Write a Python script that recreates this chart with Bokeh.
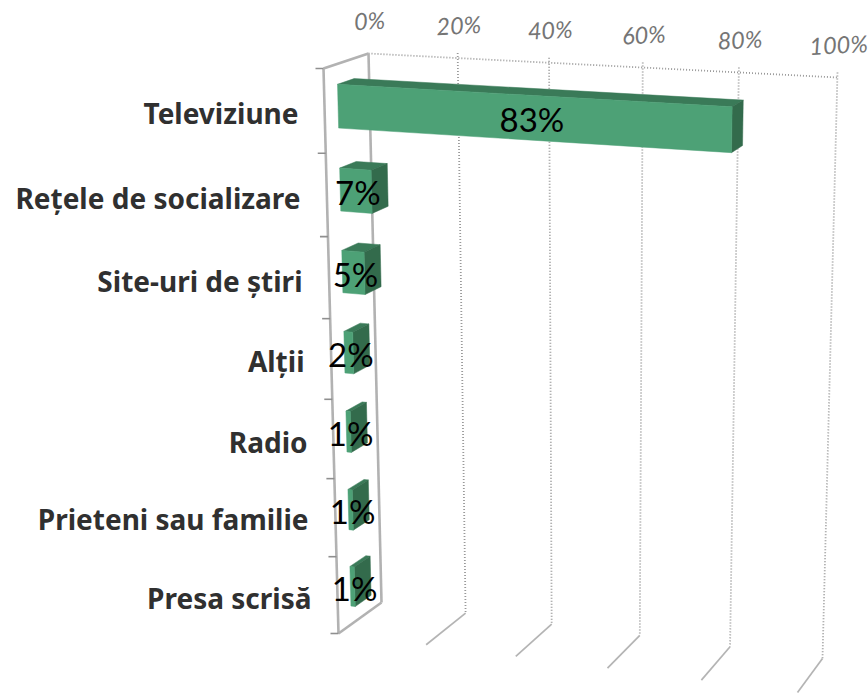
from bokeh.plotting import figure
from bokeh.models import Range1d
from bokeh.core.properties import value
from bokeh.embed import file_html
from bokeh.resources import INLINE
import numpy as np

categories = ["Televiziune", "Rețele de socializare", "Site-uri de știri", "Alții", "Radio",
              "Prieteni sau familie", "Presa scrisă"]
shares = [83, 7, 5, 2, 1, 1, 1]
axis_ticks = [0, 20, 40, 60, 80, 100]
tick_labels = ["0%", "20%", "40%", "60%", "80%", "100%"]

W, H = 868, 693
# camera: the corners of the front and back planes of the 3D box, in page pixels
FRONT = [(323, 68), (810, 95), (797, 692), (338, 633)]
BACK = [(368, 53), (837, 77), (822, 658), (381, 602)]
Z0, Z1 = 0.30, 0.67          # depth of the bars inside the box
BAR_PAD = 0.24               # gap above and below a bar, in category units


def homography(q):
    s = np.array([(0, 0), (1, 0), (1, 1), (0, 1)], float)
    A, b = [], []
    for (x, y), (u, w) in zip(s, q):
        A.append([x, y, 1, 0, 0, 0, -u * x, -u * y]); b.append(u)
        A.append([0, 0, 0, x, y, 1, -w * x, -w * y]); b.append(w)
    return np.append(np.linalg.solve(np.array(A, float), np.array(b, float)), 1).reshape(3, 3)


HF, HB = homography(FRONT), homography(BACK)
N = len(categories)


def proj(v, t, z):
    """share (0-100), category position (0-N), depth (0 front - 1 back) -> page pixels"""
    pt = np.array([v / 100, t / N, 1.0])
    f, b = HF @ pt, HB @ pt
    f, b = f[:2] / f[2], b[:2] / b[2]
    return tuple(f + (b - f) * z)


p = figure(width=W, height=H, output_backend="svg", toolbar_location=None,
           x_range=Range1d(0, W), y_range=Range1d(H, 0), min_border=0,
           x_axis_type=None, y_axis_type=None, outline_line_color=None,
           background_fill_color="white", border_fill_color="white")
p.grid.visible = False


def seg(a, b, **kw):
    p.line([a[0], b[0]], [a[1], b[1]], **kw)


GRID = dict(line_color="#999999", line_width=1.8, line_dash="1 2")
FLOOR = dict(line_color="#b4b4b4", line_width=1.7)
AXIS = dict(line_color="#b2b2b2", line_width=2.6)
TICK = dict(line_color="#8f8f8f", line_width=1.6)

# back wall and floor
seg(proj(0, 0, 1), proj(100, 0, 1), **GRID)
for v in axis_ticks[1:]:
    top = proj(v, 0, 1)
    seg((top[0], top[1] - 5), proj(v, N, 1), **GRID)
    seg(proj(v, N, 1), proj(v, N, 0), **FLOOR)

# the zero plane
seg(proj(0, 0, 0), proj(0, N, 0), **AXIS)
seg(proj(0, 0, 1), proj(0, N, 1), **AXIS)
seg(proj(0, 0, 0), proj(0, 0, 1), **AXIS)
seg(proj(0, N, 0), proj(0, N, 1), **AXIS)
for t in range(N + 1):
    a = proj(0, t, 0)
    seg((a[0] - 8, a[1]), a, **TICK)

# bars
C_FRONT, C_TOP, C_SIDE = "#4da176", "#3a7a58", "#336b4c"
for i, val in enumerate(shares):
    t0, t1 = i + BAR_PAD, i + 1 - BAR_PAD
    top = [proj(0, t0, Z0), proj(val, t0, Z0), proj(val, t0, Z1), proj(0, t0, Z1)]
    side = [proj(val, t0, Z0), proj(val, t1, Z0), proj(val, t1, Z1), proj(val, t0, Z1)]
    front = [proj(0, t0, Z0), proj(val, t0, Z0), proj(val, t1, Z0), proj(0, t1, Z0)]
    for q, c in ((top, C_TOP), (side, C_SIDE), (front, C_FRONT)):
        p.patch([u[0] for u in q], [u[1] for u in q], fill_color=c, line_color=c, line_width=0.5)

# value labels, centred on the front face of each bar
lab = [proj(val / 2, i + 0.5, Z0) for i, val in enumerate(shares)]
p.text([u[0] + 2 for u in lab], [u[1] + 1 for u in lab], text=[f"{v}%" for v in shares],
       text_font=value("Lato"), text_font_size="33px", text_color="#000000",
       text_align="center", text_baseline="middle")

# category labels
cat_x = [298, 300, 302, 304, 307, 308, 311]
cat_y = [112, 197, 280, 360, 441, 518, 597]
p.text(cat_x, cat_y, text=categories, text_font=value("Noto Sans"), text_font_size="28px",
       text_font_style="bold", text_color="#303030", text_align="right", text_baseline="middle")

# value axis labels
ax = [proj(v, 0, 1) for v in axis_ticks]
p.text([u[0] + 1 for u in ax], [u[1] - 33 for u in ax], text=tick_labels,
       text_font=value("Lato"), text_font_size="23.5px", text_font_style="italic",
       text_color="#757575", text_align="center", text_baseline="middle", angle=0.05)

open("out.html", "w").write(file_html(p, INLINE))
